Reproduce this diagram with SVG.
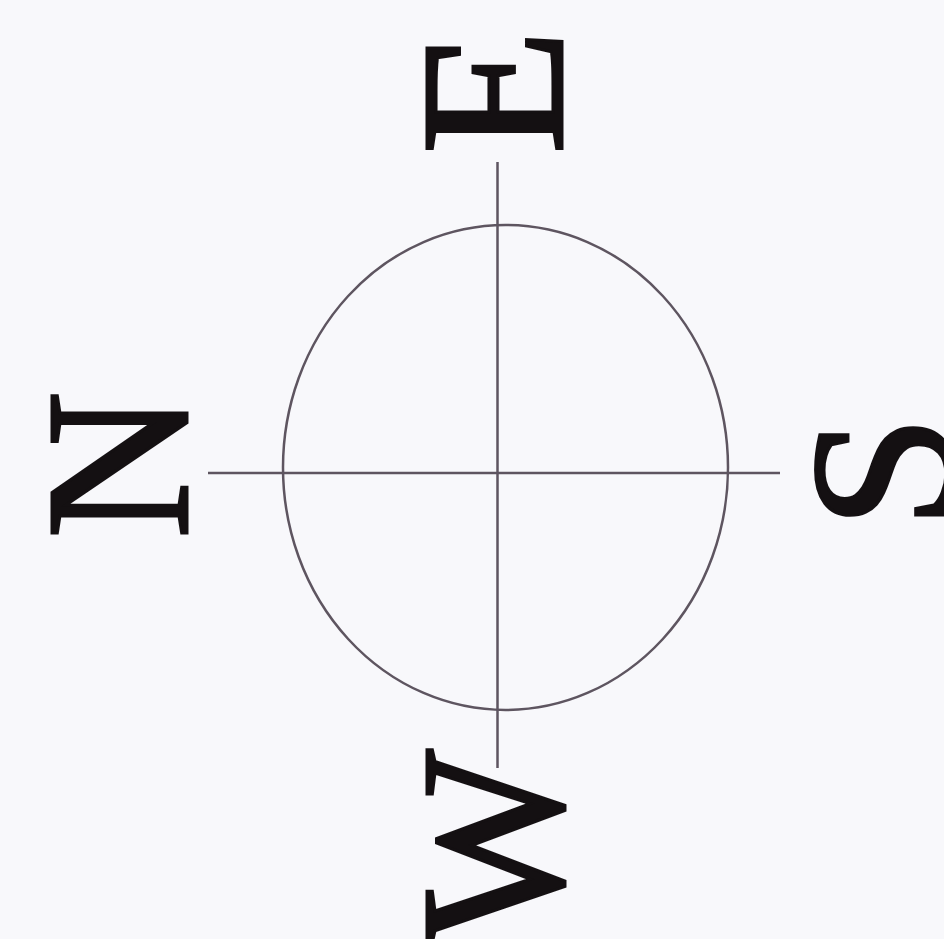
<svg xmlns="http://www.w3.org/2000/svg" width="944" height="939" viewBox="0 0 944 939">
<style>
.lbl{font-family:"Liberation Serif","Times New Roman",serif;font-size:205px;fill:#141012;stroke:#141012;stroke-width:3;text-anchor:middle}
.ln{stroke:#5e5560;stroke-width:2.5;fill:none}
</style>
<rect width="944" height="939" fill="#f8f8fb"/>
<g id="compass">
<ellipse class="ln" cx="505.5" cy="467.5" rx="222.5" ry="242.5"/>
<line class="ln" x1="208" y1="473" x2="780" y2="473"/>
<line class="ln" x1="497.5" y1="162" x2="497.5" y2="768"/>
</g>
<g id="label-N"><text class="lbl" transform="translate(187,465) rotate(-90)">N</text></g>
<g id="label-E"><text class="lbl" transform="translate(562,92) rotate(-90)">E</text></g>
<g id="label-S"><text class="lbl" transform="translate(952,472) rotate(-90)">S</text></g>
<g id="label-W"><text class="lbl" transform="translate(562,846) rotate(-90)">W</text></g>
</svg>
